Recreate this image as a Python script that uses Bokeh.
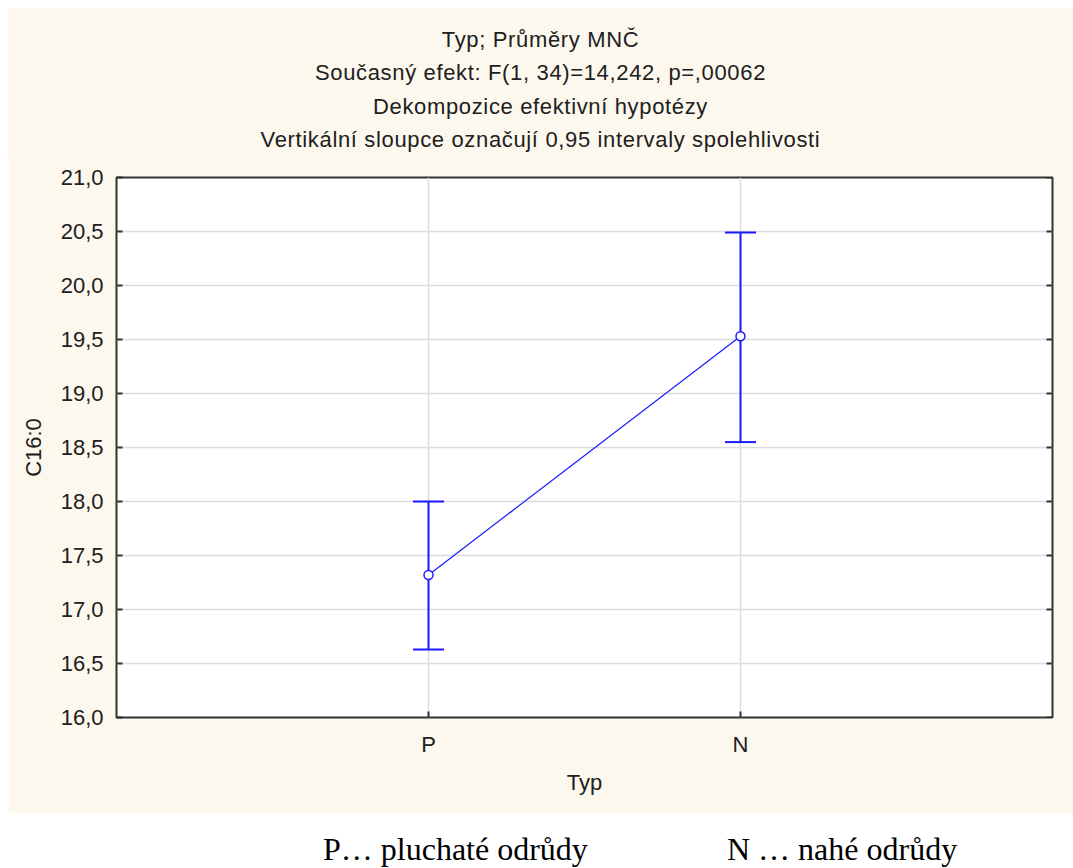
from bokeh.plotting import figure
from bokeh.models import (ColumnDataSource, Whisker, TeeHead, FixedTicker,
                          Div, Range1d, Spacer)
from bokeh.layouts import column, row
from bokeh.embed import file_html
from bokeh.resources import INLINE

# ---- data ----
categories = ["P", "N"]
cat_pos = [1, 2]
means = [17.32, 19.53]
lower = [16.63, 18.55]
upper = [18.00, 20.49]
y_ticks = [16.0, 16.5, 17.0, 17.5, 18.0, 18.5, 19.0, 19.5, 20.0, 20.5, 21.0]
y_tick_labels = ["16,0", "16,5", "17,0", "17,5", "18,0", "18,5",
                 "19,0", "19,5", "20,0", "20,5", "21,0"]
title_lines = ["Typ; Průměry MNČ",
               "Současný efekt: F(1, 34)=14,242, p=,00062",
               "Dekompozice efektivní hypotézy",
               "Vertikální sloupce označují 0,95 intervaly spolehlivosti"]
caption_left = "P… pluchaté odrůdy"
caption_right = "N … nahé odrůdy"

BG = "#fdf8ee"
BLUE = "#1a1aff"
TXT = "#202020"
FONT = "Liberation Sans"
FS = "22px"
W = 1065

src = ColumnDataSource(dict(x=cat_pos, m=means, lo=lower, up=upper))
tick_src = ColumnDataSource(dict(y=y_ticks, x=[3.0] * len(y_ticks)))

# ---- title block ----
title_html = "".join(
    f'<div style="height:33.3px;line-height:33.3px;">{t}</div>' for t in title_lines)
title_div = Div(width=W, height=149, margin=0,
                styles={"background-color": BG},
                text=(f'<div style="width:{W}px;padding-top:15px;text-align:center;'
                      f'font-family:\'{FONT}\';font-size:{FS};color:{TXT};'
                      f'letter-spacing:0.65px;">{title_html}</div>'))

# ---- plot ----
p = figure(width=W, height=656, output_backend="svg", toolbar_location=None,
           x_range=Range1d(0, 3), y_range=Range1d(16, 21),
           min_border_left=108, min_border_right=21,
           min_border_top=20, min_border_bottom=96,
           background_fill_color="white", border_fill_color=BG,
           outline_line_color="#333333", outline_line_width=2)

p.xgrid.ticker = FixedTicker(ticks=cat_pos)
p.ygrid.ticker = FixedTicker(ticks=y_ticks)
for g in (p.xgrid, p.ygrid):
    g.grid_line_color = "#dcdcdc"
    g.grid_line_width = 1.5

xa = p.xaxis[0]
xa.ticker = FixedTicker(ticks=cat_pos)
xa.major_label_overrides = {c: l for c, l in zip(cat_pos, categories)}
xa.axis_label = "Typ"
ya = p.yaxis[0]
ya.ticker = FixedTicker(ticks=y_ticks)
ya.major_label_overrides = {t: l for t, l in zip(y_ticks, y_tick_labels)}
ya.axis_label = "C16:0"

for ax in (xa, ya):
    ax.axis_line_color = None
    ax.major_tick_in = 6
    ax.major_tick_out = 0
    ax.minor_tick_line_color = None
    ax.major_tick_line_color = "#333333"
    ax.major_tick_line_width = 2
    ax.major_label_text_font = FONT
    ax.major_label_text_font_size = FS
    ax.major_label_text_color = TXT
    ax.axis_label_text_font = FONT
    ax.axis_label_text_font_size = FS
    ax.axis_label_text_font_style = "normal"
    ax.axis_label_text_color = TXT
xa.major_label_standoff = 14
xa.axis_label_standoff = 10
ya.major_label_standoff = 13
ya.axis_label_standoff = 12

# inward ticks on the right frame edge (half of each dash is clipped away)
p.scatter("x", "y", source=tick_src, marker="dash", size=12,
          line_color="#333333", line_width=2)

# error bars
w = Whisker(source=src, base="x", upper="up", lower="lo",
            line_color=BLUE, line_width=2,
            upper_head=TeeHead(size=31, line_color=BLUE, line_width=2),
            lower_head=TeeHead(size=31, line_color=BLUE, line_width=2))
p.add_layout(w)

p.line("x", "m", source=src, line_color=BLUE, line_width=1.2)
p.scatter("x", "m", source=src, marker="circle", size=9, line_color=BLUE,
          line_width=1.5, fill_color="white")

# ---- caption ----
cap = Div(width=W, height=47, margin=0,
          styles={"background-color": "white", "overflow": "visible"},
          text=(
              f'<div style="position:relative;width:{W}px;height:47px;'
              'font-family:\'Liberation Serif\';font-size:32px;color:#000;">'
              f'<span style="position:absolute;left:315px;top:14px;white-space:nowrap;">{caption_left}</span>'
              f'<span style="position:absolute;left:719px;top:14px;white-space:nowrap;">{caption_right}</span>'
              '</div>'))

layout = column(Spacer(width=1, height=8),
                row(Spacer(width=8, height=1), column(title_div, p, cap, spacing=0), spacing=0),
                spacing=0)
open("out.html", "w").write(file_html(layout, INLINE))
